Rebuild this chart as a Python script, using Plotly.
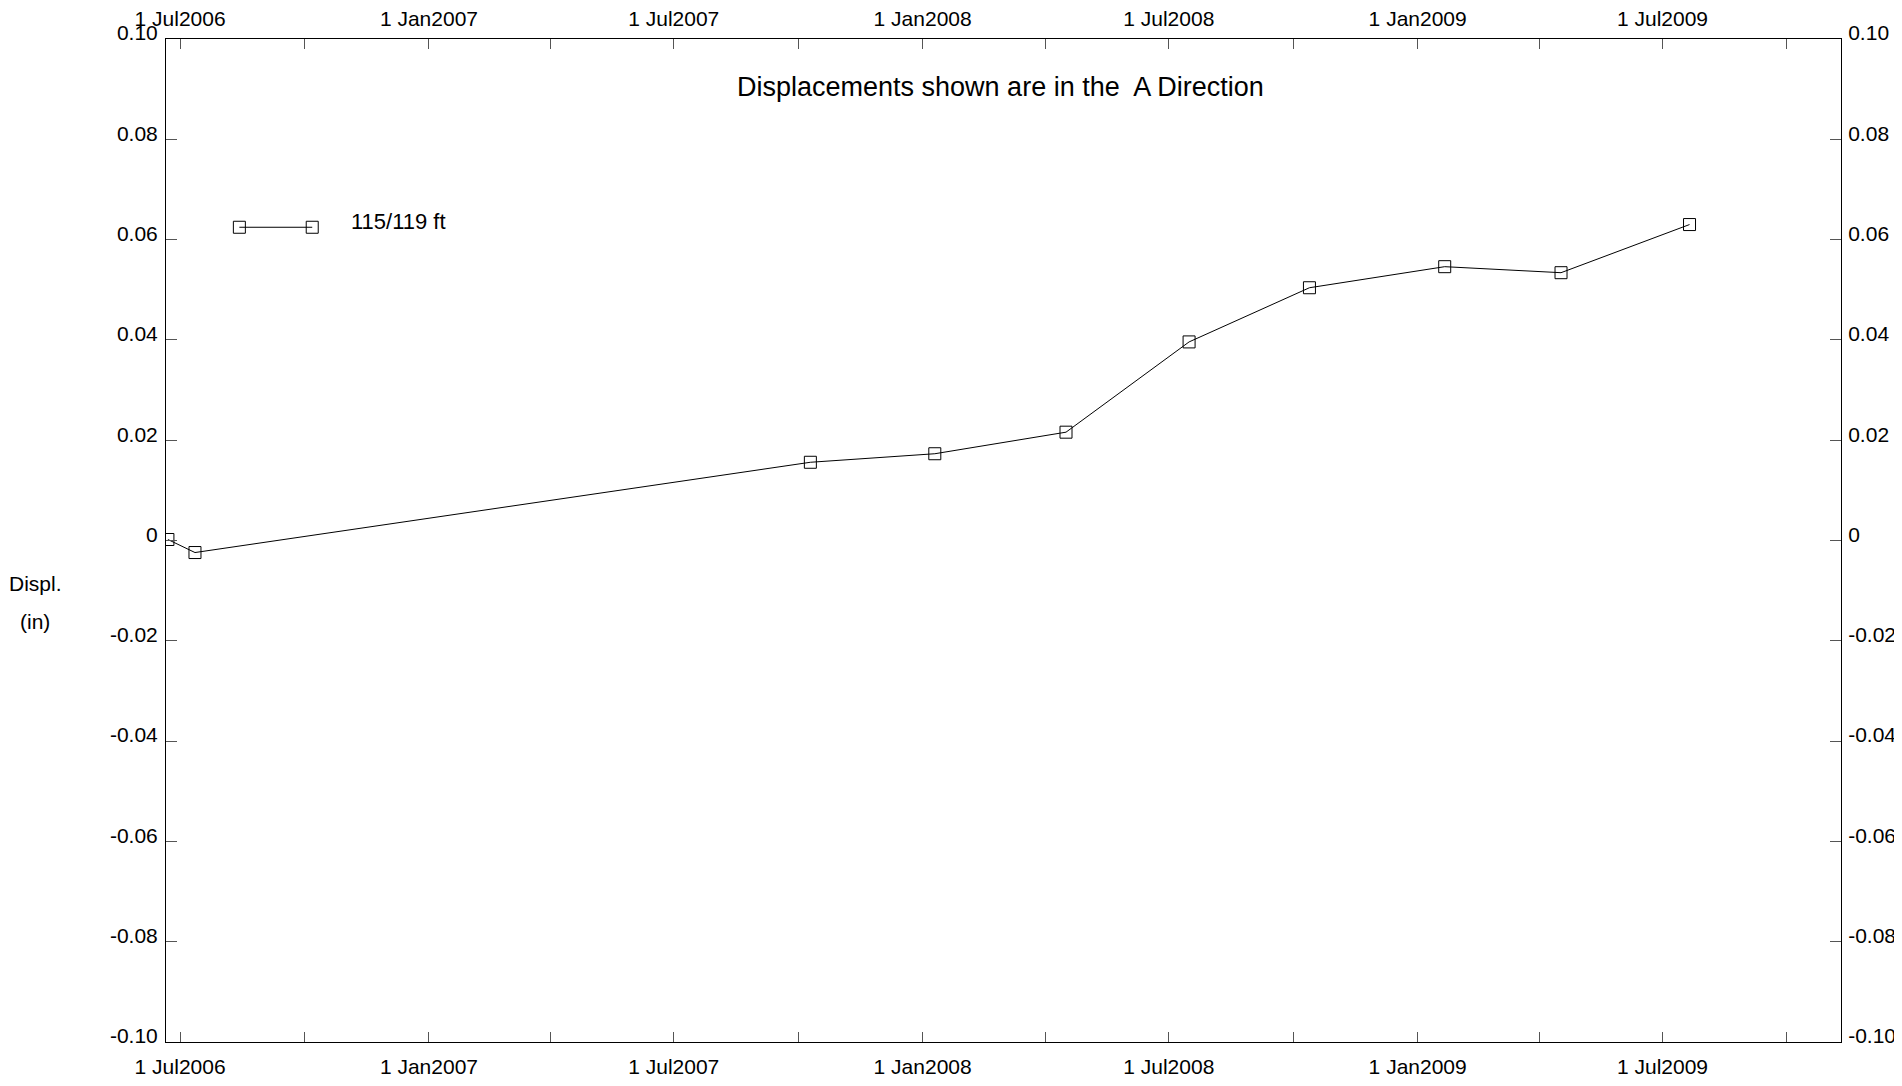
import plotly.graph_objects as go

# ---- data ----
dates = ["2006-06-22", "2006-07-12", "2007-10-10", "2008-01-10", "2008-04-16",
         "2008-07-16", "2008-10-13", "2009-01-21", "2009-04-17", "2009-07-21"]
displ = [0.0002, -0.0024, 0.0156, 0.0173, 0.0216, 0.0396, 0.0504, 0.0546, 0.0534, 0.0630]
series_name = "115/119 ft"
y_tickvals = [0.10, 0.08, 0.06, 0.04, 0.02, 0.0, -0.02, -0.04, -0.06, -0.08, -0.10]
y_ticktext = ["0.10", "0.08", "0.06", "0.04", "0.02", "0", "-0.02", "-0.04", "-0.06", "-0.08", "-0.10"]
x_range = ["2006-06-20 14:00", "2009-11-10"]
y_range = [-0.10, 0.10]
title_text = "Displacements shown are in the  A Direction"

FONT = "Liberation Sans, Arial, sans-serif"
TICKC = "#555555"
FS = 21

fig = go.Figure()
fig.add_trace(go.Scatter(
    x=dates, y=displ, mode="lines+markers", name=series_name,
    line=dict(color="black", width=1),
    marker=dict(symbol="square-open", size=12, color="black", line=dict(width=1)),
    showlegend=False, hoverinfo="x+y"))
# invisible copy to anchor the top / right axes
fig.add_trace(go.Scatter(
    x=dates, y=displ, mode="markers", xaxis="x2", yaxis="y2",
    marker=dict(opacity=0), showlegend=False, hoverinfo="skip"))

xcommon = dict(type="date", range=x_range, tickformat="%-d %b%Y", dtick="M6",
               tick0="2006-07-01", ticks="inside", ticklen=10, tickcolor=TICKC,
               tickwidth=1, showgrid=False, zeroline=False, showline=True,
               linecolor="black", linewidth=1, automargin=False,
               minor=dict(dtick="M3", tick0="2006-07-01", ticks="inside",
                          ticklen=10, tickcolor=TICKC, showgrid=False),
               tickfont=dict(family=FONT, size=FS, color="black"))
ycommon = dict(range=y_range, tickvals=y_tickvals, ticktext=y_ticktext,
               ticks="inside", ticklen=11, tickcolor=TICKC, tickwidth=1,
               showgrid=False, zeroline=False, showline=True, linecolor="black",
               linewidth=1, ticklabelshift=-6, ticklabelstandoff=3, automargin=False,
               tickfont=dict(family=FONT, size=FS, color="black"))

# the page body has an 8px margin, so the figure is 8px smaller than the window
fig.update_layout(
    width=1894, height=1078,
    margin=dict(l=158, r=61, t=31, b=44, autoexpand=False),
    paper_bgcolor="white", plot_bgcolor="white",
    font=dict(family=FONT, size=FS, color="black"),
    xaxis=dict(side="bottom", ticklabelstandoff=6, **xcommon),
    xaxis2=dict(side="top", overlaying="x", anchor="y", ticklabelstandoff=4, **xcommon),
    yaxis=dict(side="left", **ycommon),
    yaxis2=dict(side="right", overlaying="y", anchor="x", ticklabelstandoff=2, **{k: v for k, v in ycommon.items() if k != "ticklabelstandoff"}),
    showlegend=False,
)

# title and axis label
fig.add_annotation(text=title_text, xref="x domain", yref="y domain", x=0.498, y=0.952,
                   showarrow=False, font=dict(family=FONT, size=27, color="black"),
                   xanchor="center", yanchor="middle")
fig.add_annotation(text="Displ.", xref="x domain", yref="y domain", x=-0.0782, y=0.4576,
                   showarrow=False, font=dict(family=FONT, size=FS, color="black"),
                   xanchor="center", yanchor="middle")
fig.add_annotation(text="(in)", xref="x domain", yref="y domain", x=-0.0782, y=0.4197,
                   showarrow=False, font=dict(family=FONT, size=FS, color="black"),
                   xanchor="center", yanchor="middle")

# custom legend: line with two markers and label
lg_x0, lg_x1, lg_y = 0.0438, 0.0873, 0.8123
fig.add_shape(type="line", xref="x domain", yref="y domain",
              x0=lg_x0, x1=lg_x1, y0=lg_y, y1=lg_y, line=dict(color="black", width=1))
for lx in (lg_x0, lg_x1):
    fig.add_shape(type="rect", xref="x domain", yref="y domain",
                  xsizemode="pixel", ysizemode="pixel", xanchor=lx, yanchor=lg_y,
                  x0=-6, x1=6, y0=-6, y1=6, line=dict(color="black", width=1),
                  fillcolor="rgba(0,0,0,0)")
fig.add_annotation(text=series_name, xref="x domain", yref="y domain", x=0.1094, y=0.8185,
                   showarrow=False, font=dict(family=FONT, size=22, color="black"),
                   xanchor="left", yanchor="middle")

# hide page scrollbars so the right-hand tick labels are not covered
fig.write_html("out.html",
               post_script="document.documentElement.style.overflow='hidden';"
                           "document.body.style.overflow='hidden';")
